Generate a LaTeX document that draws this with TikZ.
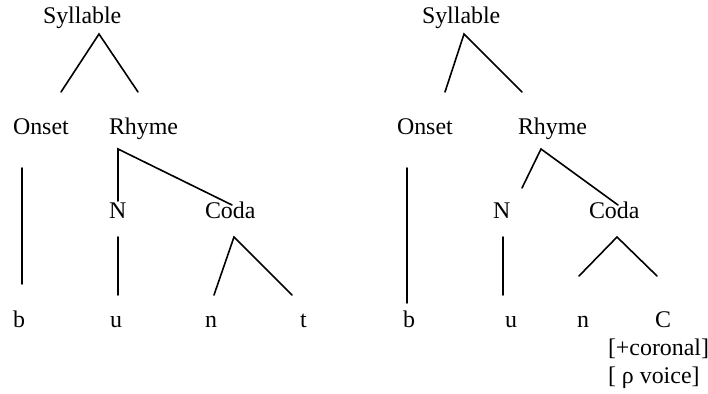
\documentclass[tikz,border=0pt]{standalone}
\usepackage{fontspec}
\setmainfont{Liberation Serif}
\begin{document}
\begin{tikzpicture}[x=1pt,y=-1pt,
  lbl/.style={anchor=base west,inner sep=0pt,outer sep=0pt,font=\fontsize{23.9}{28}\selectfont},
  br/.style={line width=1.6pt,line cap=round}]
\useasboundingbox (0,0) rectangle (708,393);
% ---------- left tree ----------
\node[lbl] (Syl1) at (43,24) {Syllable};
\node[lbl] (Ons1) at (13,134) {Onset};
\node[lbl] (Rhy1) at (109,134) {Rhyme};
\node[lbl] (N1) at (109,218) {N};
\node[lbl] (Coda1) at (205,218) {Coda};
\node[lbl] (b1) at (13,327) {b};
\node[lbl] (u1) at (110,327) {u};
\node[lbl] (n1) at (205,327) {n};
\node[lbl] (t1) at (300,327) {t};
\coordinate (s1top) at (99,34);
\coordinate (s1l) at (61,92);
\coordinate (s1r) at (138,92);
\coordinate (o1t) at (22,168);
\coordinate (o1b) at (22,284);
\coordinate (r1top) at (118,149);
\coordinate (r1l) at (118,201);
\coordinate (r1r) at (232,205);
\coordinate (n1t) at (118,237);
\coordinate (n1b) at (118,295);
\coordinate (c1top) at (234,237);
\coordinate (c1l) at (214,295);
\coordinate (c1r) at (292,295);
\draw[br] (s1l) -- (s1top) -- (s1r);
\draw[br] (o1t) -- (o1b);
\draw[br] (r1l) -- (r1top) -- (r1r);
\draw[br] (n1t) -- (n1b);
\draw[br] (c1l) -- (c1top) -- (c1r);
% ---------- right tree ----------
\node[lbl] (Syl2) at (422,24) {Syllable};
\node[lbl] (Ons2) at (397,134) {Onset};
\node[lbl] (Rhy2) at (518,134) {Rhyme};
\node[lbl] (N2) at (493,218) {N};
\node[lbl] (Coda2) at (589,218) {Coda};
\node[lbl] (b2) at (403,327) {b};
\node[lbl] (u2) at (505,327) {u};
\node[lbl] (n2) at (577,327) {n};
\node[lbl] (C2) at (655,327) {C};
\node[lbl] (cor) at (608,355) {[+coronal]};
\node[lbl] (voi) at (608,383) {[ ρ voice]};
\coordinate (s2top) at (464,34);
\coordinate (s2l) at (445,92);
\coordinate (s2r) at (522,92);
\coordinate (o2t) at (407,168);
\coordinate (o2b) at (407,303);
\coordinate (r2top) at (541,149);
\coordinate (r2l) at (522,188);
\coordinate (r2r) at (618,205);
\coordinate (n2t) at (503,237);
\coordinate (n2b) at (503,295);
\coordinate (c2top) at (617,237);
\coordinate (c2l) at (579,276);
\coordinate (c2r) at (657,276);
\draw[br] (s2l) -- (s2top) -- (s2r);
\draw[br] (o2t) -- (o2b);
\draw[br] (r2l) -- (r2top) -- (r2r);
\draw[br] (n2t) -- (n2b);
\draw[br] (c2l) -- (c2top) -- (c2r);
\end{tikzpicture}
\end{document}
